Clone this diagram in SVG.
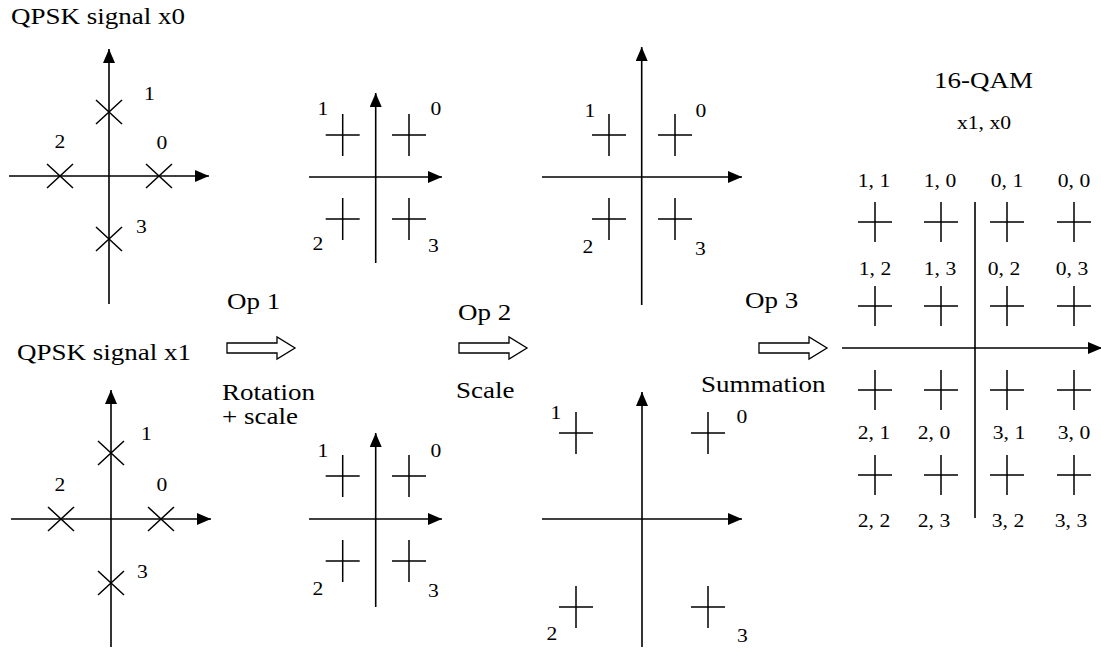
<svg xmlns="http://www.w3.org/2000/svg" xmlns:xlink="http://www.w3.org/1999/xlink" width="1101" height="649" viewBox="0 0 1101 649">
<style>
.ax{stroke:#000;stroke-width:1.6;fill:none}
.pt{stroke:#000;stroke-width:1.5;fill:none}
.opa{stroke:#000;stroke-width:1.3;fill:#fff}
text{font-family:"Liberation Serif","Times New Roman",serif;fill:#000}
.big{font-size:22.5px}
.lbl{font-size:18px}
.qm{font-size:18px;text-anchor:middle}
</style>
<defs>
<marker id="ah" markerUnits="userSpaceOnUse" markerWidth="14" markerHeight="12" refX="14" refY="6" orient="auto"><path d="M0,0L14,6L0,12z" fill="#000"/></marker>
<path id="xm" class="pt" d="M-13,-12L13,12M-13,12L13,-12"/>
<path id="pm" class="pt" d="M-17,0H17M0,-21V21"/>
<path id="pq" class="pt" d="M-17,0H17M0,-20V20"/>
</defs>
<rect width="1101" height="649" fill="#fff"/>

<g id="qpsk-x0">
<text class="big" transform="matrix(1.2 0 0 1 11 24)">QPSK signal x0</text>
<line class="ax" x1="109" y1="304" x2="109" y2="49" marker-end="url(#ah)"/>
<line class="ax" x1="9" y1="176" x2="209" y2="176" marker-end="url(#ah)"/>
<use xlink:href="#xm" x="109" y="112"/>
<use xlink:href="#xm" x="60" y="176"/>
<use xlink:href="#xm" x="159" y="176"/>
<use xlink:href="#xm" x="109" y="239"/>
<text class="lbl" transform="matrix(1.2 0 0 1 144 100)">1</text>
<text class="lbl" transform="matrix(1.2 0 0 1 54.5 148)">2</text>
<text class="lbl" transform="matrix(1.2 0 0 1 156.5 149)">0</text>
<text class="lbl" transform="matrix(1.2 0 0 1 136 233)">3</text>
</g>

<g id="qpsk-x1">
<text class="big" transform="matrix(1.2 0 0 1 17 360)">QPSK signal x1</text>
<line class="ax" x1="111" y1="647" x2="111" y2="390" marker-end="url(#ah)"/>
<line class="ax" x1="11" y1="519" x2="211" y2="519" marker-end="url(#ah)"/>
<use xlink:href="#xm" x="111" y="453"/>
<use xlink:href="#xm" x="61" y="519"/>
<use xlink:href="#xm" x="161" y="519"/>
<use xlink:href="#xm" x="111" y="583"/>
<text class="lbl" transform="matrix(1.2 0 0 1 141 440)">1</text>
<text class="lbl" transform="matrix(1.2 0 0 1 54.5 491)">2</text>
<text class="lbl" transform="matrix(1.2 0 0 1 156.5 491)">0</text>
<text class="lbl" transform="matrix(1.2 0 0 1 137 578)">3</text>
</g>

<g id="x0-rotated">
<line class="ax" x1="375.7" y1="263" x2="375.7" y2="93" marker-end="url(#ah)"/>
<line class="ax" x1="309" y1="177" x2="442" y2="177" marker-end="url(#ah)"/>
<use xlink:href="#pm" x="342.7" y="135"/>
<use xlink:href="#pm" x="409" y="135"/>
<use xlink:href="#pm" x="342.7" y="219"/>
<use xlink:href="#pm" x="409" y="219"/>
<text class="lbl" transform="matrix(1.2 0 0 1 317.6 115)">1</text>
<text class="lbl" transform="matrix(1.2 0 0 1 430.5 115)">0</text>
<text class="lbl" transform="matrix(1.2 0 0 1 312.5 250)">2</text>
<text class="lbl" transform="matrix(1.2 0 0 1 428 252)">3</text>
</g>

<g id="x1-rotated">
<line class="ax" x1="375.7" y1="607" x2="375.7" y2="433" marker-end="url(#ah)"/>
<line class="ax" x1="309" y1="519" x2="442" y2="519" marker-end="url(#ah)"/>
<use xlink:href="#pm" x="342.7" y="476"/>
<use xlink:href="#pm" x="409" y="476"/>
<use xlink:href="#pm" x="342.7" y="561"/>
<use xlink:href="#pm" x="409" y="561"/>
<text class="lbl" transform="matrix(1.2 0 0 1 317.6 457)">1</text>
<text class="lbl" transform="matrix(1.2 0 0 1 430.5 457)">0</text>
<text class="lbl" transform="matrix(1.2 0 0 1 312.5 595)">2</text>
<text class="lbl" transform="matrix(1.2 0 0 1 428 597)">3</text>
</g>

<g id="x0-scaled">
<line class="ax" x1="641.7" y1="305" x2="641.7" y2="47" marker-end="url(#ah)"/>
<line class="ax" x1="542" y1="177" x2="742" y2="177" marker-end="url(#ah)"/>
<use xlink:href="#pm" x="609" y="135"/>
<use xlink:href="#pm" x="675" y="135"/>
<use xlink:href="#pm" x="609" y="219"/>
<use xlink:href="#pm" x="675" y="219"/>
<text class="lbl" transform="matrix(1.2 0 0 1 584.6 117)">1</text>
<text class="lbl" transform="matrix(1.2 0 0 1 695.5 117)">0</text>
<text class="lbl" transform="matrix(1.2 0 0 1 582.5 253)">2</text>
<text class="lbl" transform="matrix(1.2 0 0 1 695 255)">3</text>
</g>

<g id="x1-scaled">
<line class="ax" x1="642" y1="647" x2="642" y2="392" marker-end="url(#ah)"/>
<line class="ax" x1="542" y1="519" x2="742" y2="519" marker-end="url(#ah)"/>
<use xlink:href="#pm" x="576" y="433"/>
<use xlink:href="#pm" x="708" y="433"/>
<use xlink:href="#pm" x="576" y="607"/>
<use xlink:href="#pm" x="708" y="607"/>
<text class="lbl" transform="matrix(1.2 0 0 1 550.6 419)">1</text>
<text class="lbl" transform="matrix(1.2 0 0 1 736.5 423)">0</text>
<text class="lbl" transform="matrix(1.2 0 0 1 546.5 640)">2</text>
<text class="lbl" transform="matrix(1.2 0 0 1 737 642)">3</text>
</g>

<g id="qam16">
<text class="big" transform="matrix(1.2 0 0 1 934 88)">16-QAM</text>
<text class="lbl" transform="matrix(1.2 0 0 1 957 129)">x1, x0</text>
<line class="ax" x1="975" y1="202" x2="975" y2="518"/>
<line class="ax" x1="842" y1="348" x2="1102" y2="348" marker-end="url(#ah)"/>
<use xlink:href="#pq" x="875" y="222"/><use xlink:href="#pq" x="941" y="222"/><use xlink:href="#pq" x="1007" y="222"/><use xlink:href="#pq" x="1074" y="222"/>
<use xlink:href="#pq" x="875" y="306"/><use xlink:href="#pq" x="941" y="306"/><use xlink:href="#pq" x="1007" y="306"/><use xlink:href="#pq" x="1074" y="306"/>
<use xlink:href="#pq" x="875" y="390"/><use xlink:href="#pq" x="941" y="390"/><use xlink:href="#pq" x="1007" y="390"/><use xlink:href="#pq" x="1074" y="390"/>
<use xlink:href="#pq" x="875" y="475"/><use xlink:href="#pq" x="941" y="475"/><use xlink:href="#pq" x="1007" y="475"/><use xlink:href="#pq" x="1074" y="475"/>
<text class="qm" transform="matrix(1.2 0 0 1 874 187)">1, 1</text>
<text class="qm" transform="matrix(1.2 0 0 1 940 187)">1, 0</text>
<text class="qm" transform="matrix(1.2 0 0 1 1007 187)">0, 1</text>
<text class="qm" transform="matrix(1.2 0 0 1 1074 187)">0, 0</text>
<text class="qm" transform="matrix(1.2 0 0 1 875 275)">1, 2</text>
<text class="qm" transform="matrix(1.2 0 0 1 940 275)">1, 3</text>
<text class="qm" transform="matrix(1.2 0 0 1 1004 275)">0, 2</text>
<text class="qm" transform="matrix(1.2 0 0 1 1072 275)">0, 3</text>
<text class="qm" transform="matrix(1.2 0 0 1 874 439)">2, 1</text>
<text class="qm" transform="matrix(1.2 0 0 1 934 439)">2, 0</text>
<text class="qm" transform="matrix(1.2 0 0 1 1009 439)">3, 1</text>
<text class="qm" transform="matrix(1.2 0 0 1 1074 439)">3, 0</text>
<text class="qm" transform="matrix(1.2 0 0 1 874 527)">2, 2</text>
<text class="qm" transform="matrix(1.2 0 0 1 934 527)">2, 3</text>
<text class="qm" transform="matrix(1.2 0 0 1 1008 527)">3, 2</text>
<text class="qm" transform="matrix(1.2 0 0 1 1071 527)">3, 3</text>
</g>

<g id="connectors">
<g id="op1">
<text class="big" transform="matrix(1.2 0 0 1 227 309)">Op 1</text>
<path class="opa" d="M227,343H277V337L295,348L277,359V353H227Z"/>
<text class="big" transform="matrix(1.2 0 0 1 222 400)">Rotation</text>
<text class="big" transform="matrix(1.2 0 0 1 222 424)">+ scale</text>
</g>
<g id="op2">
<text class="big" transform="matrix(1.2 0 0 1 458 320)">Op 2</text>
<path class="opa" d="M459,343H509V337L527,348L509,359V353H459Z"/>
<text class="big" transform="matrix(1.2 0 0 1 456 398)">Scale</text>
</g>
<g id="op3">
<text class="big" transform="matrix(1.2 0 0 1 745 308)">Op 3</text>
<path class="opa" d="M759,343H809V337L827,348L809,359V353H759Z"/>
<text class="big" transform="matrix(1.2 0 0 1 701 392)">Summation</text>
</g>
</g>
</svg>
